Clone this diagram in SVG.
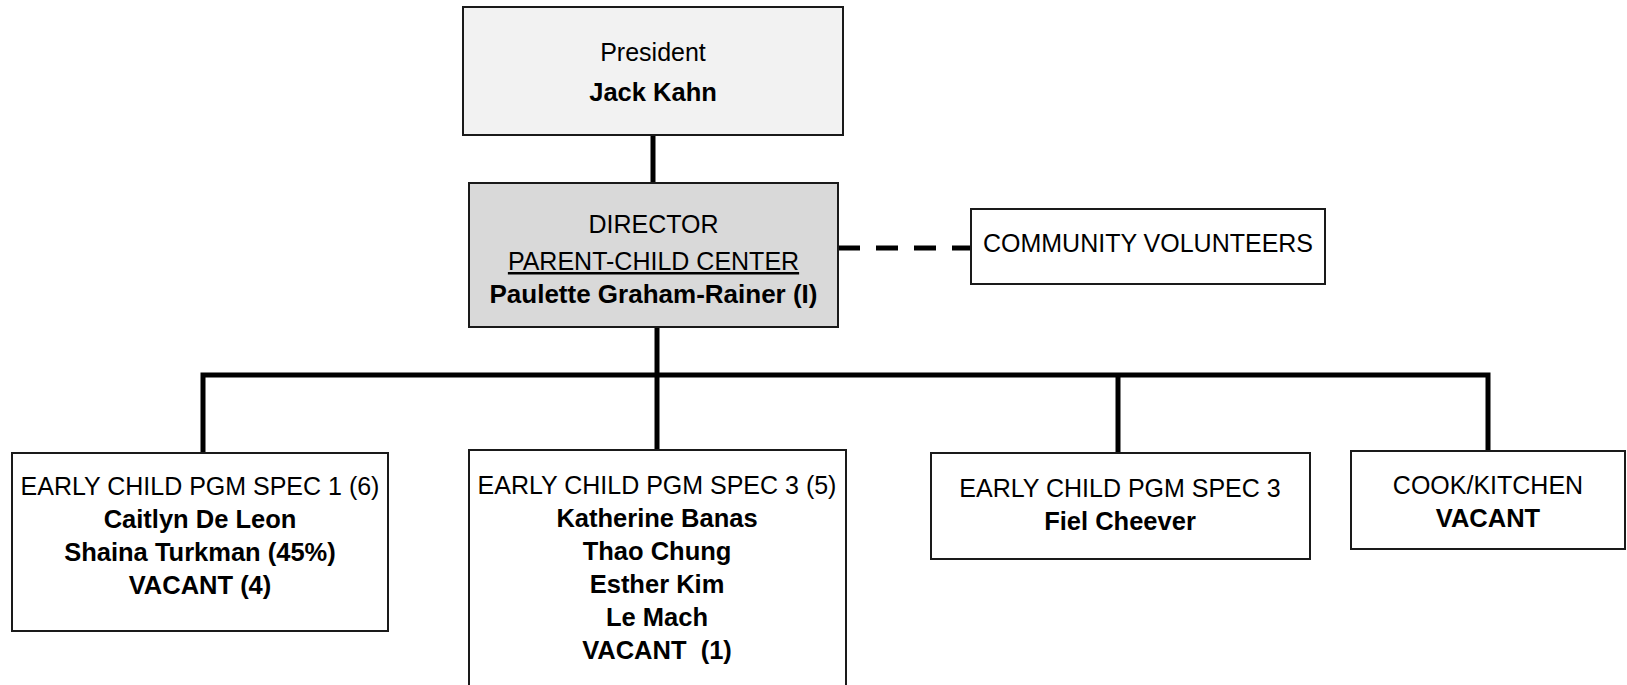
<svg xmlns="http://www.w3.org/2000/svg" width="1627" height="685" viewBox="0 0 1627 685">
<style>
.box{fill:#ffffff;stroke:#1a1a1a;stroke-width:2}
.t{font-family:"Liberation Sans",Arial,sans-serif;font-size:25px;fill:#000;text-anchor:middle}
.b{font-weight:bold;font-size:25.5px}
.ln{fill:none;stroke:#000;stroke-width:5;stroke-linejoin:miter;stroke-linecap:butt}
.dash{fill:none;stroke:#000;stroke-width:5;stroke-dasharray:22 16}
</style>
<rect width="1627" height="685" fill="#ffffff"/>
<g id="connectors">
<path class="ln" d="M653,135 V183"/>
<path class="ln" d="M657,327 V375"/>
<path class="ln" d="M203,453 V375 H1488 V451"/>
<path class="ln" d="M657,375 V450"/>
<path class="ln" d="M1118,375 V453"/>
<path class="dash" d="M838,248 H971"/>
</g>
<g id="president">
<rect class="box" x="463" y="7" width="380" height="128" style="fill:#f2f2f2"/>
<text class="t" x="653" y="61">President</text>
<text class="t b" x="653" y="101">Jack Kahn</text>
</g>
<g id="director">
<rect class="box" x="469" y="183" width="369" height="144" style="fill:#d9d9d9"/>
<text class="t" x="653.5" y="233">DIRECTOR</text>
<text class="t" x="653.5" y="270" text-decoration="underline">PARENT-CHILD CENTER</text>
<text class="t b" x="653.5" y="303" style="font-size:26px">Paulette Graham-Rainer (I)</text>
</g>
<g id="volunteers">
<rect class="box" x="971" y="209" width="354" height="75"/>
<text class="t" x="1148" y="252">COMMUNITY VOLUNTEERS</text>
</g>
<g id="spec1">
<rect class="box" x="12" y="453" width="376" height="178"/>
<text class="t" x="200" y="495">EARLY CHILD PGM SPEC 1 (6)</text>
<text class="t b" x="200" y="528">Caitlyn De Leon</text>
<text class="t b" x="200" y="561">Shaina Turkman (45%)</text>
<text class="t b" x="200" y="594">VACANT (4)</text>
</g>
<g id="spec3a">
<rect class="box" x="469" y="450" width="377" height="260"/>
<text class="t" x="657" y="494">EARLY CHILD PGM SPEC 3 (5)</text>
<text class="t b" x="657" y="527">Katherine Banas</text>
<text class="t b" x="657" y="560">Thao Chung</text>
<text class="t b" x="657" y="593">Esther Kim</text>
<text class="t b" x="657" y="626">Le Mach</text>
<text class="t b" x="657" y="659" xml:space="preserve">VACANT  (1)</text>
</g>
<g id="spec3b">
<rect class="box" x="931" y="453" width="379" height="106"/>
<text class="t" x="1120" y="497">EARLY CHILD PGM SPEC 3</text>
<text class="t b" x="1120" y="530">Fiel Cheever</text>
</g>
<g id="cook">
<rect class="box" x="1351" y="451" width="274" height="98"/>
<text class="t" x="1488" y="494">COOK/KITCHEN</text>
<text class="t b" x="1488" y="527">VACANT</text>
</g>
</svg>
